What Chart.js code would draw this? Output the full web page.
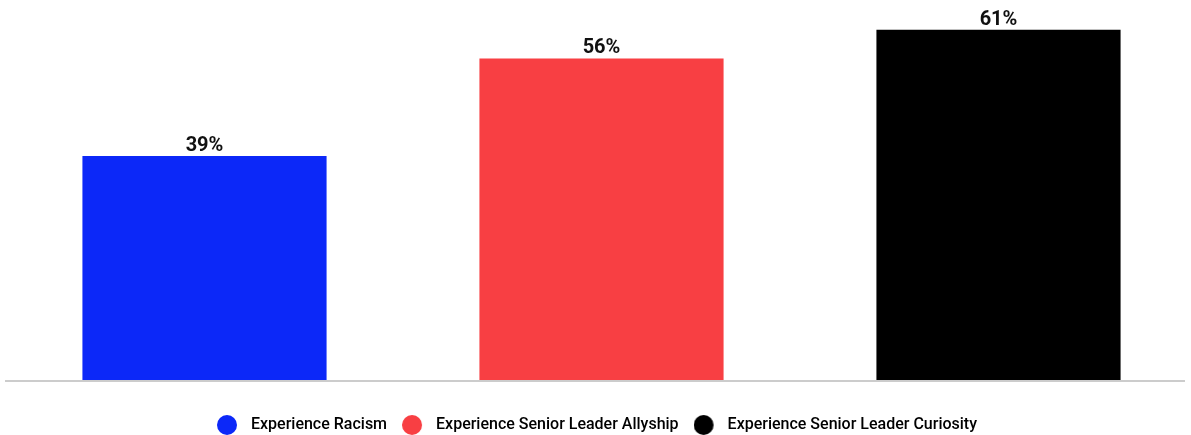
<!DOCTYPE html>
<html>
<head>
<meta charset="utf-8">
<script src="https://cdn.jsdelivr.net/npm/chart.js@4.4.0/dist/chart.umd.min.js"></script>
<style>
  html, body { margin: 0; padding: 0; background: #fff; overflow: hidden; }
  #wrap { width: 1200px; height: 443px; margin-left: -3px; }
</style>
</head>
<body>
<div id="wrap"><canvas id="bar_chart"></canvas></div>
<script>
const categories = ['Experience Racism', 'Experience Senior Leader Allyship', 'Experience Senior Leader Curiosity'];
const values = [39, 56, 61];
const barColors = ['#0c28f8', '#f83f43', '#000000'];

// legend marker: circle on the left of a wider canvas so the text sits further away
function makeDot(color) {
  const c = document.createElement('canvas');
  c.width = 26; c.height = 20;
  const g = c.getContext('2d');
  g.fillStyle = color;
  g.beginPath();
  g.arc(10, 10, 10, 0, Math.PI * 2);
  g.fill();
  return c;
}
const dots = barColors.map(makeDot);

const valueLabels = {
  id: 'valueLabels',
  afterDatasetsDraw(chart) {
    const ctx = chart.ctx;
    const meta = chart.getDatasetMeta(0);
    ctx.save();
    ctx.font = 'bold 20px Roboto';
    ctx.fillStyle = '#111';
    ctx.textAlign = 'center';
    ctx.textBaseline = 'alphabetic';
    meta.data.forEach(function(bar, i) {
      ctx.fillText(values[i] + '%', bar.x, bar.y - 5);
    });
    ctx.restore();
  }
};

const baseLine = {
  id: 'baseLine',
  afterDatasetsDraw(chart) {
    const ctx = chart.ctx;
    const y = chart.scales.y.getPixelForValue(0);
    ctx.save();
    ctx.strokeStyle = '#cccccc';
    ctx.lineWidth = 2;
    ctx.beginPath();
    ctx.moveTo(8, y + 1);
    ctx.lineTo(1188, y + 1);
    ctx.stroke();
    ctx.restore();
  }
};

new Chart(document.getElementById('bar_chart').getContext('2d'), {
  type: 'bar',
  data: {
    labels: categories,
    datasets: [{ data: values, backgroundColor: barColors, categoryPercentage: 1, barPercentage: 0.615 }]
  },
  options: {
    responsive: true,
    maintainAspectRatio: false,
    animation: false,
    layout: { padding: { left: 0, right: 0, top: 1, bottom: 0 } },
    scales: {
      x: {
        ticks: { display: false }, grid: { display: false }, border: { display: false },
        afterFit: function(s) { s.height = 22; }
      },
      y: {
        min: 0, max: 66,
        ticks: { display: false }, grid: { display: false }, border: { display: false },
        afterFit: function(s) { s.width = 9; }
      }
    },
    plugins: {
      tooltip: { enabled: false },
      legend: {
        position: 'bottom',
        labels: {
          usePointStyle: true,
          pointStyleWidth: 26,
          boxHeight: 14,
          padding: 15,
          color: '#1a1a1a',
          font: { family: 'Roboto', size: 16, weight: '500' },
          generateLabels: function() {
            return categories.map(function(name, i) {
              return { text: name, pointStyle: dots[i], fillStyle: barColors[i], strokeStyle: barColors[i], lineWidth: 0, hidden: false, index: i };
            });
          }
        }
      }
    }
  },
  plugins: [valueLabels, baseLine]
});
</script>
</body>
</html>
